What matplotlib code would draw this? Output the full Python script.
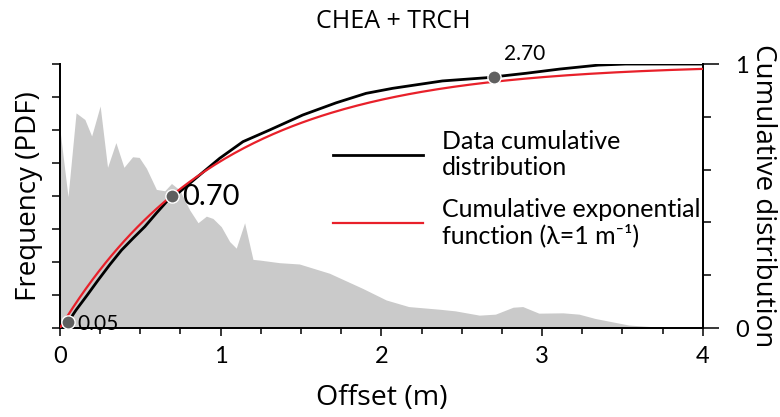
import numpy as np
import matplotlib.pyplot as plt

# offset distribution (PDF, arbitrary units on left axis)
pdf_x = [0.0, 0.05, 0.10, 0.155, 0.197, 0.25, 0.296, 0.348, 0.398, 0.452, 0.493,
         0.538, 0.60, 0.652, 0.694, 0.745, 0.807, 0.859, 0.911, 0.952, 1.004,
         1.056, 1.097, 1.149, 1.201, 1.242, 1.366, 1.49, 1.677, 1.884, 2.03,
         2.17, 2.36, 2.46, 2.61, 2.71, 2.82, 2.88, 2.98, 3.13, 3.23, 3.33,
         3.54, 3.75, 4.0]
pdf_y = [6.0, 3.98, 6.52, 6.32, 5.82, 6.73, 4.87, 5.62, 4.87, 5.19, 5.17,
         4.84, 4.2, 4.16, 4.38, 4.18, 3.58, 3.19, 3.39, 3.32, 3.07,
         2.62, 2.42, 3.19, 2.08, 2.06, 1.98, 1.94, 1.66, 1.2, 0.85,
         0.65, 0.57, 0.52, 0.39, 0.42, 0.63, 0.65, 0.45, 0.46, 0.42, 0.29,
         0.09, 0.02, 0.01]

# empirical cumulative distribution
cdf_x = [0.03, 0.052, 0.10, 0.17, 0.238, 0.31, 0.383, 0.455, 0.528, 0.60,
         0.673, 0.745, 0.87, 0.994, 1.139, 1.304, 1.511, 1.718, 1.905, 2.07,
         2.38, 2.65, 2.90, 3.11, 3.35, 3.52, 4.0]
cdf_y = [0.0, 0.024, 0.068, 0.125, 0.182, 0.24, 0.295, 0.34, 0.384, 0.435,
         0.485, 0.516, 0.58, 0.643, 0.706, 0.75, 0.807, 0.853, 0.889, 0.908,
         0.936, 0.948, 0.965, 0.981, 0.996, 1.0, 1.0]

# marked offsets on the data curve
mark_x = [0.05, 0.70, 2.70]
mark_y = [0.024, 0.50, 0.952]
mark_lbl = ['0.05', '0.70', '2.70']

lam = 1.0
xe = np.linspace(0, 4, 200)
ye = 1 - np.exp(-lam * xe)

fam = ['Lato', 'DejaVu Sans']

fig = plt.figure(figsize=(7.8, 4.17), dpi=100)
ax = fig.add_axes([0.0769, 0.2134, 0.824, 0.633])
ax2 = ax.twinx()

ax.fill_between(pdf_x, pdf_y, 0, color='#cacaca', lw=0)
ax.set_xlim(0, 4)
ax.set_ylim(0, 8)
ax.set_yticks(range(9))
ax.set_yticklabels([])
ax.set_xticks([0, 1, 2, 3, 4])
ax.set_xticks(np.arange(0, 4.01, 0.25), minor=True)

ax2.plot(cdf_x, cdf_y, color='black', lw=2.0, label='Data cumulative\ndistribution',
         zorder=3)
ax2.plot(xe, ye, color='#e8202a', lw=1.6,
         label='Cumulative exponential\nfunction (λ=1 m⁻¹)', zorder=4)
ax2.plot(mark_x, mark_y, 'o', color='#5f5f5f', ms=9.5, mec='white', mew=1,
         zorder=5, clip_on=False)
ax2.set_ylim(0, 1)
ax2.set_yticks([0, 1])
ax2.set_yticklabels(['0', '1'])
ax2.set_yticks([0.2, 0.4, 0.6, 0.8], minor=True)

ax2.annotate(mark_lbl[0], (mark_x[0], mark_y[0]), xytext=(6.5, -2),
             textcoords='offset points', fontsize=15, family=fam, va='center')
ax2.annotate(mark_lbl[1], (mark_x[1], mark_y[1]), xytext=(7, -1),
             textcoords='offset points', fontsize=21, family=fam, va='center')
ax2.annotate(mark_lbl[2], (mark_x[2], mark_y[2]), xytext=(7, 16),
             textcoords='offset points', fontsize=15, family=fam, va='center')

for a in (ax, ax2):
    a.spines['top'].set_visible(False)
    a.spines[['left', 'right', 'bottom']].set_linewidth(1.3)
    a.tick_params(which='both', direction='out', width=1.1)
ax.tick_params(axis='x', which='major', length=6, pad=7, labelsize=17)
ax.tick_params(axis='x', which='minor', length=4)
ax.tick_params(axis='y', length=6)
ax2.tick_params(axis='y', which='major', length=11.5, pad=12, labelsize=17)
ax2.tick_params(axis='y', which='minor', length=6)
for t in ax.get_xticklabels() + ax2.get_yticklabels():
    t.set_family(fam)

ax.set_xlabel('Offset (m)', fontsize=20.5, family='Open Sans', va='baseline')
ax.xaxis.set_label_coords(0.5, -0.292)
ax.set_ylabel('Frequency (PDF)', fontsize=20, family='Open Sans', labelpad=3)
ax2.set_ylabel('Cumulative distribution', fontsize=20, family='Open Sans',
               rotation=270, labelpad=0, va='bottom')
ax.set_title('CHEA + TRCH', fontsize=18, family='Open Sans', pad=26, x=0.518)

leg = ax2.legend(loc='upper left', bbox_to_anchor=(0.4246, 0.75), frameon=False,
                 borderpad=0, borderaxespad=0,
                 handlelength=3.6, handletextpad=0.76, labelspacing=0.75,
                 prop={'family': fam, 'size': 18})
for t in leg.get_texts():
    t.set_linespacing(1.15)

fig.savefig('out.png', dpi=100)
